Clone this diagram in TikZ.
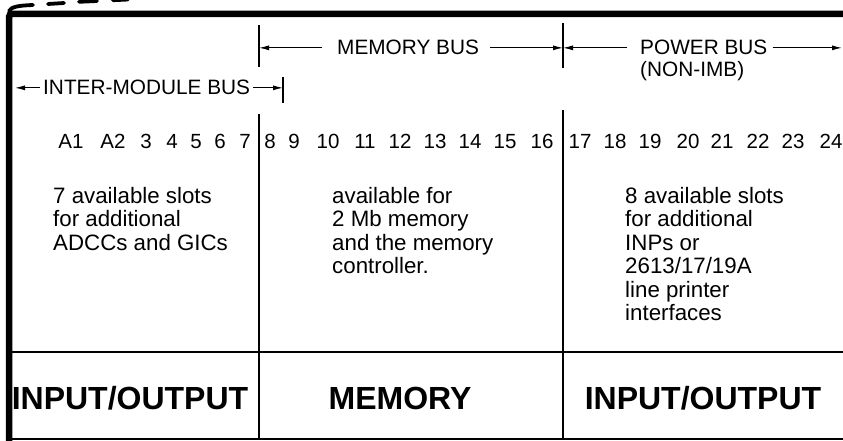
\documentclass[tikz,border=0pt]{standalone}
\usepackage{fontspec}
\setmainfont{Liberation Sans}
\usetikzlibrary{arrows.meta}
\begin{document}
\begin{tikzpicture}[x=1pt,y=-1pt,
  hdr/.style={inner sep=0pt, font=\fontsize{20.8}{23}\selectfont, anchor=base west},
  num/.style={inner sep=0pt, font=\fontsize{20.5}{23}\selectfont, anchor=base},
  body/.style={inner sep=0pt, font=\fontsize{22.3}{23.5}\selectfont, align=left, anchor=north west},
  big/.style={inner sep=0pt, font=\fontsize{32}{36}\selectfont\bfseries, anchor=base},
  rule/.style={line width=1.5pt},
  frame/.style={line width=6.5pt},
  dsh/.style={line width=3.8pt, line cap=round},
  arr/.style={line width=1pt, -{Latex[length=10pt,width=5pt]}},
]
\useasboundingbox (0,0) rectangle (843,441);
% outer frame
\draw[frame, rounded corners=3pt] (9,441) -- (9,14) -- (843,14);
% dashed edge above
\draw[dsh] (9,11) .. controls (11,7) and (18,5.5) .. (33,5);
\draw[dsh] (48,4) -- (64,3);
\draw[dsh] (79,1.8) -- (97,1);
\draw[dsh] (113,0.2) -- (128,-0.5);
% dividers
\coordinate (d1top) at (259,114);
\coordinate (d1bot) at (259,439);
\coordinate (d2top) at (563,110);
\coordinate (d2bot) at (563,439);
\draw[rule] (d1top) -- (d1bot);
\draw[rule] (d2top) -- (d2bot);
\coordinate (hL) at (9,352);
\coordinate (hR) at (843,352);
\draw[rule] (hL) -- (hR);
\coordinate (bL) at (9,439);
\coordinate (bR) at (843,439);
\draw[rule] (bL) -- (bR);
% bus bars
\coordinate (b1a) at (259,25);
\coordinate (b1b) at (259,67);
\coordinate (b2a) at (563,23);
\coordinate (b2b) at (563,68);
\coordinate (b3a) at (283,77);
\coordinate (b3b) at (283,103);
\draw[rule] (b1a) -- (b1b);
\draw[rule] (b2a) -- (b2b);
\draw[rule] (b3a) -- (b3b);
% header labels
\node[hdr] (mb) at (337,55) {MEMORY BUS};
\node[hdr] (pb) at (640,55) {POWER BUS};
\node[hdr] (nimb) at (640,77) {(NON-IMB)};
\node[hdr] (imb) at (43,95) {INTER-MODULE BUS};
\coordinate (rightedge) at (842,48);
\coordinate (leftedge) at (15,88);
\draw[arr] ([xshift=-15pt]mb.west) -- (mb.west -| b1a);
\draw[arr] ([xshift=11pt]mb.east) -- (mb.east -| b2a);
\draw[arr] ([xshift=-13pt]pb.west) -- (pb.west -| b2a);
\draw[arr] ([xshift=5pt]pb.east) -- (pb.east -| rightedge);
\draw[arr] ([xshift=-3pt]imb.west) -- (imb.west -| leftedge);
\draw[arr] ([xshift=3pt]imb.east) -- (imb.east -| b3a);
% slot numbers
\foreach \t/\x [count=\i] in {A1/71,A2/113,3/146,4/172,5/196,6/220,7/245,8/270,9/294,10/328,11/365,12/400,13/435,14/470,15/505,16/542,17/580,18/615,19/650,20/688,21/722,22/758,23/793,24/831}
  \node[num] (s\i) at (\x,148) {\t};
% body texts
\node[body] (t1) at (53,187) {7 available slots\\for additional\\ADCCs and GICs};
\node[body] (t2) at (332,187) {available for\\2 Mb memory\\and the memory\\controller.};
\node[body] (t3) at (625,187) {8 available slots\\for additional\\INPs or\\2613/17/19A\\line printer\\interfaces};
% bottom labels
\node[big] (io1) at (130,409) {INPUT/OUTPUT};
\node[big] (mem) at (400,409) {MEMORY};
\node[big] (io2) at (703,409) {INPUT/OUTPUT};
\end{tikzpicture}
\end{document}
